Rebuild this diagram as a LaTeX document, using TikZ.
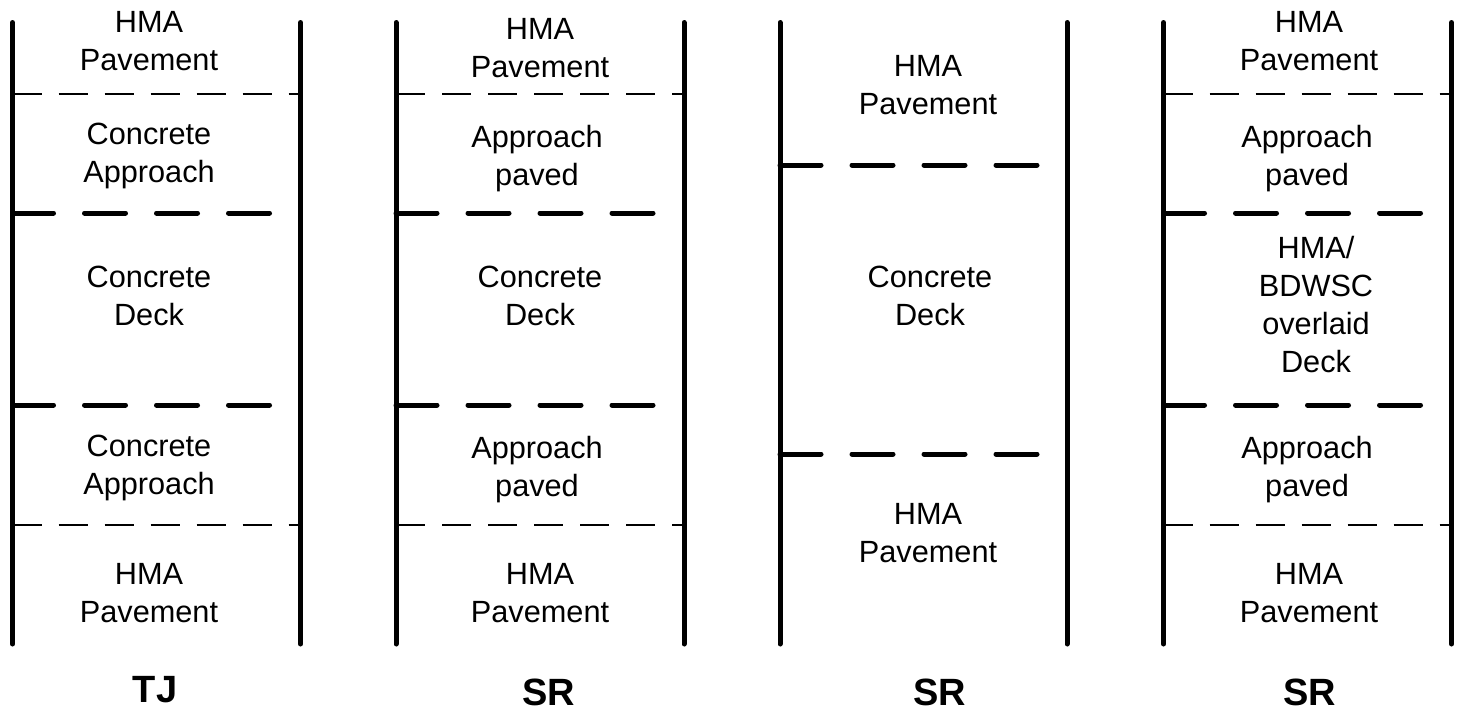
\documentclass[tikz,border=0pt]{standalone}
\usepackage{fontspec}
\setmainfont{Liberation Sans}
\begin{document}
\begin{tikzpicture}[x=1pt,y=-1pt,
  wall/.style={line width=5pt, line cap=round},
  thinjoint/.style={line width=1.3pt, dash pattern=on 29pt off 17pt},
  thickjoint/.style={line width=5pt, line cap=round, dash pattern=on 41pt off 31pt},
  lbl/.style={anchor=north, inner sep=0pt, align=center, font=\fontsize{30.7}{38}\selectfont},
  ttl/.style={anchor=base, inner sep=0pt, font=\fontsize{38}{44}\selectfont\bfseries}]
\useasboundingbox (0,0) rectangle (1458,713);

% walls (left/right edges of each strip)
\foreach \n/\xl/\xr in {a/12.5/300.5, b/396/684, c/780/1067, d/1163.5/1451.5}{
  \coordinate (\n tl) at (\xl,22.5);
  \coordinate (\n bl) at (\xl,644);
  \coordinate (\n tr) at (\xr,22.5);
  \coordinate (\n br) at (\xr,644);
  \draw[wall] (\n tl) -- (\n bl);
  \draw[wall] (\n tr) -- (\n br);
}

% joints in strips 1, 2 and 4
\foreach \n/\xl/\xr in {a/12.5/300.5, b/396/684, d/1163.5/1451.5}{
  \coordinate (\n j1l) at (\xl,94);  \coordinate (\n j1r) at (\xr,94);
  \coordinate (\n j2l) at (\xl,213); \coordinate (\n j2r) at (\xl+257,213);
  \coordinate (\n j3l) at (\xl,405); \coordinate (\n j3r) at (\xl+257,405);
  \coordinate (\n j4l) at (\xl,525); \coordinate (\n j4r) at (\xr,525);
  \draw[thinjoint] (\n j1l) -- (\n j1r);
  \draw[thickjoint] (\n j2l) -- (\n j2r);
  \draw[thickjoint] (\n j3l) -- (\n j3r);
  \draw[thinjoint] (\n j4l) -- (\n j4r);
}
% joints in strip 3
\coordinate (c j1l) at (780,165); \coordinate (c j1r) at (1037,165);
\coordinate (c j2l) at (780,454); \coordinate (c j2r) at (1037,454);
\draw[thickjoint] (c j1l) -- (c j1r);
\draw[thickjoint] (c j2l) -- (c j2r);

% strip 1 (TJ)
\node[lbl] (a1) at (149,11.5) {HMA\\Pavement};
\node[lbl] (a2) at (149,123) {Concrete\\Approach};
\node[lbl] (a3) at (149,266) {Concrete\\Deck};
\node[lbl] (a4) at (149,434.5) {Concrete\\Approach};
\node[lbl] (a5) at (149,563) {HMA\\Pavement};
\node[ttl] (at) at (155,702) {TJ};

% strip 2 (SR)
\node[lbl] (b1) at (540,18) {HMA\\Pavement};
\node[lbl] (b2) at (537,125) {Approach\\paved};
\node[lbl] (b3) at (540,266) {Concrete\\Deck};
\node[lbl] (b4) at (537,436) {Approach\\paved};
\node[lbl] (b5) at (540,563) {HMA\\Pavement};
\node[ttl] (bt) at (549,705) {SR};

% strip 3 (SR)
\node[lbl] (c1) at (928,55) {HMA\\Pavement};
\node[lbl] (c2) at (930,266) {Concrete\\Deck};
\node[lbl] (c3) at (928,503) {HMA\\Pavement};
\node[ttl] (ct) at (940,705) {SR};

% strip 4 (SR)
\node[lbl] (d1) at (1309,11.5) {HMA\\Pavement};
\node[lbl] (d2) at (1307,125) {Approach\\paved};
\node[lbl] (d3) at (1316,236) {HMA/\\BDWSC\\overlaid\\Deck};
\node[lbl] (d4) at (1307,436) {Approach\\paved};
\node[lbl] (d5) at (1309,563) {HMA\\Pavement};
\node[ttl] (dt) at (1310,705) {SR};
\end{tikzpicture}
\end{document}
